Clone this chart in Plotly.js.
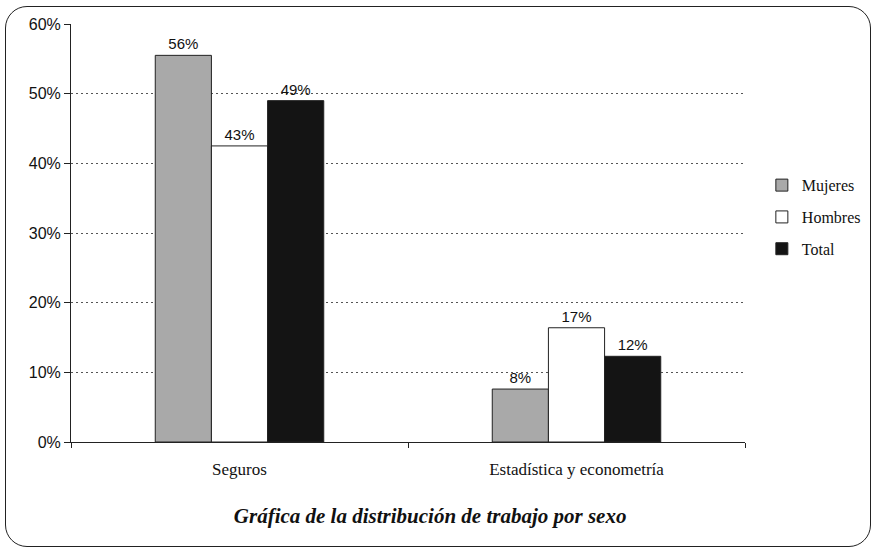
<!DOCTYPE html>
<html>
<head>
<meta charset="utf-8">
<script src="https://cdn.plot.ly/plotly-3.0.1.min.js"></script>
<style>
  html, body { margin: 0; padding: 0; background: #fff; }
  #wrap { position: relative; width: 876px; height: 551px; }
  #chart { width: 876px; height: 551px; }
  #frame { position: absolute; left: 5px; top: 6px; width: 866px; height: 541px;
           border: 1.3px solid #222; border-radius: 22px; pointer-events: none; box-sizing: border-box; }
</style>
</head>
<body>
<div id="wrap">
  <div id="chart"></div>
  <div id="frame"></div>
</div>
<script>
const categories = ["Seguros", "Estadística y econometría"];
const mujeres = [0.555, 0.076];
const hombres = [0.425, 0.164];
const total = [0.49, 0.123];
const mujeresText = ["56%", "8%"];
const hombresText = ["43%", "17%"];
const totalText = ["49%", "12%"];
const yTicks = [0, 0.1, 0.2, 0.3, 0.4, 0.5, 0.6];
const yTickText = ["0%", "10%", "20%", "30%", "40%", "50%", "60%"];

const serif = "Liberation Serif, Times New Roman, serif";
const sans = "Liberation Sans, Arial, sans-serif";
const textFont = { family: sans, size: 15, color: "#111" };

const traces = [
  { name: "Mujeres", x: categories, y: mujeres, text: mujeresText, color: "#a9a9a9" },
  { name: "Hombres", x: categories, y: hombres, text: hombresText, color: "#ffffff" },
  { name: "Total", x: categories, y: total, text: totalText, color: "#141414" }
].map(t => ({
  type: "bar",
  name: t.name,
  legendgroup: t.name,
  x: t.x,
  y: t.y,
  text: t.text,
  textposition: "outside",
  textfont: textFont,
  cliponaxis: false,
  marker: { color: t.color, line: { color: "#222", width: 1 } },
  hoverinfo: "skip"
}));

const layout = {
  width: 876,
  height: 551,
  margin: { l: 71, r: 131, t: 24, b: 109, autoexpand: false },
  paper_bgcolor: "rgba(0,0,0,0)",
  plot_bgcolor: "#fff",
  barmode: "group",
  bargap: 0.5,
  bargroupgap: 0,
  font: { family: serif, size: 17, color: "#111" },
  title: {
    text: "<b><i>Gráfica de la distribución de trabajo por sexo</i></b>",
    font: { family: serif, size: 21, color: "#111" },
    x: 0.491, xanchor: "center",
    y: 0.064, yanchor: "middle",
    xref: "container"
  },
  xaxis: {
    type: "category",
    showgrid: false,
    showline: true, linecolor: "#222", linewidth: 1,
    ticks: "outside", tickson: "boundaries", ticklen: 5, tickcolor: "#222",
    tickfont: { family: serif, size: 17, color: "#111" },
    ticklabelstandoff: 12,
    automargin: false
  },
  yaxis: {
    range: [0, 0.6],
    tickvals: yTicks,
    ticktext: yTickText,
    showgrid: true, gridcolor: "#555", griddash: "2px,3px", gridwidth: 1,
    showline: true, linecolor: "#222", linewidth: 1,
    ticks: "outside", ticklen: 6, tickcolor: "#222",
    tickfont: { family: sans, size: 16, color: "#111" },
    zeroline: false,
    automargin: false
  },
  legend: {
    x: 1.025, xanchor: "left",
    y: 0.655, yanchor: "top",
    font: { family: serif, size: 16, color: "#111" },
    bgcolor: "rgba(0,0,0,0)",
    itemwidth: 30,
    tracegroupgap: 8
  },
  showlegend: true
};

Plotly.newPlot("chart", traces, layout, { displayModeBar: false, staticPlot: true });
</script>
</body>
</html>
